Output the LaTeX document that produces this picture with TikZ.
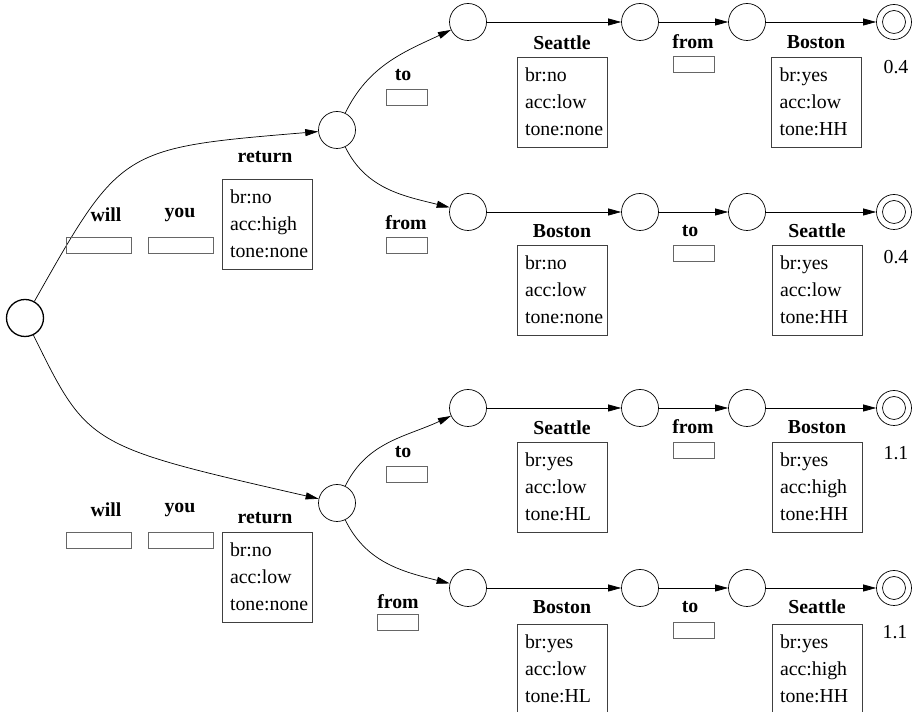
\documentclass[tikz,border=0pt]{standalone}
\usepackage{fontspec}
\setmainfont{Liberation Serif}
\usetikzlibrary{arrows.meta}

\begin{document}
\begin{tikzpicture}
[x=1pt,y=1pt,line width=0.7pt,
every node/.style={font=\fontsize{19.8}{27}\selectfont},
state/.style={circle,draw,minimum size=37pt,inner sep=0pt},
start/.style={state,line width=1.3pt},
final/.style={circle,draw,minimum size=35pt,inner sep=0pt,
  path picture={\draw (path picture bounding box.center) circle (11.5pt);}},
word/.style={font=\fontsize{19.8}{23}\selectfont\bfseries,inner sep=0pt},
slot/.style={draw=black!60,minimum width=41pt,minimum height=16pt,inner sep=0pt},
wslot/.style={slot,minimum width=65pt},
feat/.style={draw=black!75,minimum width=90pt,minimum height=90pt,inner sep=0pt,
  text width=74pt,align=left},
score/.style={inner sep=0pt},
arc/.style={-{Triangle[length=13pt,width=7pt]}}]
\useasboundingbox (0,0) rectangle (914,712);
\clip (0,0) rectangle (914,712);
% states
\node[start] (s0) at (25,394) {};
\node[state] (r1) at (337,582) {};
\node[state] (r2) at (337,209) {};
\node[state] (a1) at (468,690) {};
\node[state] (a2) at (640,690) {};
\node[state] (a3) at (747,690) {};
\node[final] (a4) at (894,690) {};
\node[state] (b1) at (468,500) {};
\node[state] (b2) at (640,500) {};
\node[state] (b3) at (747,500) {};
\node[final] (b4) at (894,500) {};
\node[state] (c1) at (468,304) {};
\node[state] (c2) at (640,304) {};
\node[state] (c3) at (747,304) {};
\node[final] (c4) at (894,304) {};
\node[state] (d1) at (468,124) {};
\node[state] (d2) at (640,124) {};
\node[state] (d3) at (747,124) {};
\node[final] (d4) at (894,124) {};
% arcs
\draw[arc] (s0) .. controls (121,564) .. (r1);
\draw[arc] (s0) .. controls (88,266) .. (r2);
\draw[arc] (r1) to[out=64,in=205] (a1);
\draw[arc] (r1) to[out=-64,in=166] (b1);
\draw[arc] (r2) to[out=64,in=205] (c1);
\draw[arc] (r2) to[out=-64,in=166] (d1);
\draw[arc] (a1) -- (a2);
\draw[arc] (a2) -- (a3);
\draw[arc] (a3) -- (a4);
\draw[arc] (b1) -- (b2);
\draw[arc] (b2) -- (b3);
\draw[arc] (b3) -- (b4);
\draw[arc] (c1) -- (c2);
\draw[arc] (c2) -- (c3);
\draw[arc] (c3) -- (c4);
\draw[arc] (d1) -- (d2);
\draw[arc] (d2) -- (d3);
\draw[arc] (d3) -- (d4);
% upper prefix
\node[word] (w1) at (106,497) {will};
\node[wslot] (w1s) at (99,467) {};
\node[word] (y1) at (180,497) {you};
\node[wslot] (y1s) at (180.5,467) {};
\node[word] (t1) at (265,555) {return};
\node[feat] (t1s) at (267,488) {br:no\\acc:high\\tone:none};
% row a
\node[word] (ta) at (403,637) {to};
\node[slot] (tas) at (406.5,614.5) {};
\node[word] (sa) at (562,669) {Seattle};
\node[feat] (sas) at (562,610) {br:no\\acc:low\\tone:none};
\node[word] (fa) at (693,670) {from};
\node[slot] (fas) at (693.5,647.5) {};
\node[word] (ba) at (816,670) {Boston};
\node[feat] (bas) at (816.5,610) {br:yes\\acc:low\\tone:HH};
\node[score] (pa) at (896,645) {0.4};
% row b
\node[word] (fb) at (406,489) {from};
\node[slot] (fbs) at (406.5,467) {};
\node[word] (bb) at (562,481) {Boston};
\node[feat] (bbs) at (562,422) {br:no\\acc:low\\tone:none};
\node[word] (tb) at (690,481) {to};
\node[slot] (tbs) at (693.5,459) {};
\node[word] (sb) at (817,481) {Seattle};
\node[feat] (sbs) at (817,422) {br:yes\\acc:low\\tone:HH};
\node[score] (pb) at (896,455) {0.4};
% lower prefix
\node[word] (w2) at (106,202) {will};
\node[wslot] (w2s) at (99,172) {};
\node[word] (y2) at (180,202) {you};
\node[wslot] (y2s) at (180.5,172) {};
\node[word] (t2) at (265,194) {return};
\node[feat] (t2s) at (267,135) {br:no\\acc:low\\tone:none};
% row c
\node[word] (tc) at (403,260) {to};
\node[slot] (tcs) at (406.5,237.5) {};
\node[word] (sc) at (562,284) {Seattle};
\node[feat] (scs) at (562,225) {br:yes\\acc:low\\tone:HL};
\node[word] (fc) at (693,285) {from};
\node[slot] (fcs) at (693.5,261.5) {};
\node[word] (bc) at (817,285) {Boston};
\node[feat] (bcs) at (817,225) {br:yes\\acc:high\\tone:HH};
\node[score] (pc) at (896,259) {1.1};
% row d
\node[word] (fd) at (398,110) {from};
\node[slot] (fds) at (397.5,90) {};
\node[word] (bd) at (562,105) {Boston};
\node[feat] (bds) at (562,43) {br:yes\\acc:low\\tone:HL};
\node[word] (td) at (690,105) {to};
\node[slot] (tds) at (693.5,82) {};
\node[word] (sd) at (817,105) {Seattle};
\node[feat] (sds) at (817,43) {br:yes\\acc:high\\tone:HH};
\node[score] (pd) at (895,80) {1.1};
\end{tikzpicture}
\end{document}
